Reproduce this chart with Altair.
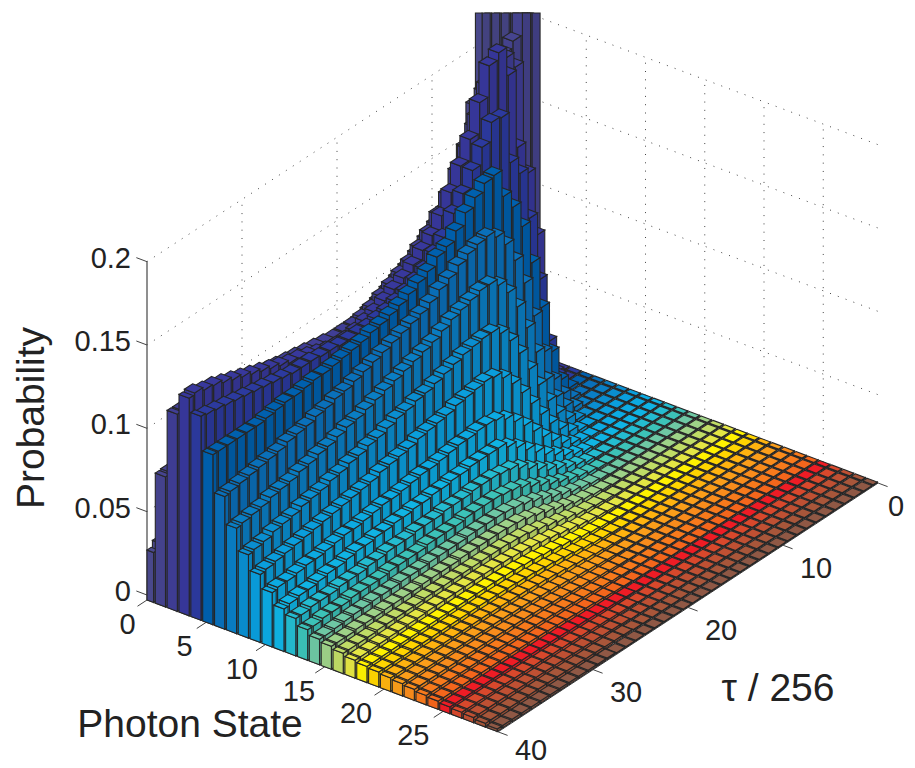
import altair as alt

# Probability (units of 1e-4) : one list per photon state, tau index 0..40
P00=[3000,3000,3000,3000,3000,3000,1700,1490,1240,1150,1080,1040,1000,970,930,890,860,830,800,770,750,730,710,690,670,650,630,610,590,570,550,530,510,490,470,440,420,390,360,330,294]
P01=[4,3000,3000,1990,1950,1900,1800,1630,1410,1300,1250,1200,1150,1100,1060,1030,1000,970,950,930,910,900,890,880,870,860,850,850,840,840,830,830,820,820,810,810,800,790,780,770,765]
P02=[4,60,440,1200,1900,1990,1990,1900,1750,1600,1500,1400,1320,1250,1200,1150,1120,1090,1060,1030,1010,1000,1000,1000,1010,1020,1030,1040,1050,1060,1070,1080,1090,1100,1110,1120,1130,1140,1150,1160,1160]
P03=[4,20,200,900,1300,1490,1950,2120,2080,1900,1720,1600,1480,1380,1300,1250,1200,1160,1130,1100,1070,1050,1030,1020,1020,1030,1050,1070,1090,1100,1120,1140,1160,1180,1200,1220,1240,1260,1270,1290,1280]
P04=[4,4,60,300,700,1100,1400,1500,1800,1810,1700,1600,1500,1420,1316,1257,1200,1170,1140,1120,1100,1090,1080,1080,1080,1080,1090,1090,1100,1100,1100,1110,1120,1130,1140,1150,1160,1170,1180,1190,1200]
P05=[4,4,20,100,300,600,900,1150,1300,1400,1560,1550,1503,1450,1380,1324,1300,1250,1220,1190,1160,1140,1120,1110,1090,1080,1070,1060,1050,1050,1040,1030,1030,1020,1010,1000,1000,1000,1000,1000,1000]
P06=[4,4,4,20,80,200,400,650,880,1050,1180,1260,1300,1290,1270,1240,1200,1170,1130,1100,1080,1060,1040,1020,1000,980,960,940,930,910,900,880,870,860,840,830,820,810,800,790,780]
P07=[4,4,4,4,30,70,160,300,500,680,840,960,1040,1080,1080,1060,1040,1020,990,960,940,920,900,880,860,840,820,800,790,770,750,740,720,710,690,680,670,650,640,630,620]
P08=[4,4,4,4,4,20,60,130,240,370,500,630,740,820,860,860,850,840,820,800,780,760,750,730,720,700,680,670,650,640,620,610,590,580,570,550,540,530,510,500,490]
P09=[4,4,4,4,4,10,20,50,100,170,260,360,460,550,620,660,670,660,650,640,620,610,600,590,570,560,550,540,520,510,500,490,480,470,460,450,440,430,420,410,400]
P10=[4,4,4,4,4,4,10,20,40,80,130,190,260,330,390,440,470,480,480,470,470,460,450,440,440,430,420,410,410,400,390,380,380,370,360,350,350,340,330,330,320]
P11=[4,4,4,4,4,4,4,10,20,40,70,110,150,200,250,300,340,370,370,370,370,360,360,350,350,340,340,330,330,320,320,310,310,300,290,290,280,270,270,260,250]
P12=[4,4,4,4,4,4,4,4,10,20,40,60,90,120,160,200,240,270,280,290,290,290,280,280,280,270,270,270,260,260,260,250,250,240,240,240,230,230,230,220,220]
P13=[4,4,4,4,4,4,4,4,4,10,20,35,50,75,100,130,160,190,210,220,230,230,230,230,220,220,220,220,210,210,210,210,200,200,200,200,190,190,190,180,180]
P14=[4,4,4,4,4,4,4,4,4,4,10,20,30,45,65,85,110,135,155,170,180,185,185,185,185,180,180,180,180,175,175,175,170,170,170,165,165,160,155,150,150]
P15=[4,4,4,4,4,4,4,4,4,4,4,11,18,28,40,55,75,95,115,130,145,150,155,155,155,155,155,150,150,150,150,145,145,145,145,140,140,140,135,135,135]
P16=[4,4,4,4,4,4,4,4,4,4,4,4,11,17,25,35,50,65,80,95,110,120,125,130,130,130,130,130,130,130,130,130,125,125,125,125,125,120,120,120,120]
P17=[4,4,4,4,4,4,4,4,4,4,4,4,4,11,16,23,33,45,58,70,82,92,100,105,110,112,115,115,115,115,115,115,115,112,112,110,110,108,106,105,105]
P18=[4,4,4,4,4,4,4,4,4,4,4,4,4,4,10,15,22,31,41,52,62,72,80,86,92,96,98,100,100,100,100,100,100,100,100,98,98,97,96,95,95]
P19=[4,4,4,4,4,4,4,4,4,4,4,4,4,4,4,10,15,21,29,38,47,56,63,70,76,80,84,86,88,90,90,90,90,90,90,90,90,88,88,88,88]
P20=[4,4,4,4,4,4,4,4,4,4,4,4,4,4,4,4,10,14,20,27,35,42,50,56,62,67,71,74,77,78,80,80,80,80,80,80,80,80,80,80,80]
P21=[4,4,4,4,4,4,4,4,4,4,4,4,4,4,4,4,4,9,13,18,25,31,38,44,50,55,59,63,65,68,70,70,72,72,72,72,72,72,72,72,72]
P22=[4,4,4,4,4,4,4,4,4,4,4,4,4,4,4,4,4,4,9,13,18,23,29,34,40,45,49,53,56,58,60,62,63,64,65,65,65,65,65,65,65]
P23=[4,4,4,4,4,4,4,4,4,4,4,4,4,4,4,4,4,4,4,9,13,17,22,27,32,36,40,44,47,49,51,52,54,55,55,55,55,55,55,55,55]
P24=[4,4,4,4,4,4,4,4,4,4,4,4,4,4,4,4,4,4,4,4,9,12,16,20,25,29,33,36,39,41,43,44,46,47,47,48,48,48,48,48,48]
P25=[4,4,4,4,4,4,4,4,4,4,4,4,4,4,4,4,4,4,4,4,4,9,12,15,19,23,26,29,32,34,35,37,38,39,40,40,40,40,40,40,40]
P26=[4,4,4,4,4,4,4,4,4,4,4,4,4,4,4,4,4,4,4,4,4,4,9,11,14,17,20,23,25,27,28,30,31,32,33,34,35,35,35,35,35]
P27=[4,4,4,4,4,4,4,4,4,4,4,4,4,4,4,4,4,4,4,4,4,4,4,4,10,13,15,18,20,21,23,24,25,26,27,28,29,30,30,30,30]
P28=[4,4,4,4,4,4,4,4,4,4,4,4,4,4,4,4,4,4,4,4,4,4,4,4,4,10,12,13,15,16,17,18,19,20,20,21,21,22,22,22,22]
P29=[4,4,4,4,4,4,4,4,4,4,4,4,4,4,4,4,4,4,4,4,4,4,4,4,4,4,4,4,9,10,11,12,12,13,13,14,14,15,15,15,15]
PROB=[P00,P01,P02,P03,P04,P05,P06,P07,P08,P09,P10,P11,P12,P13,P14,P15,P16,P17,P18,P19,P20,P21,P22,P23,P24,P25,P26,P27,P28,P29]

STATE_COLORS=["#4b4a8e","#46448f","#403e95","#38389c","#2c3a9f","#0060ae","#0a70ba","#0a7ec4","#0a8ed0","#0a9edc",
"#0caae2","#10b4e4","#24bcd0","#3cc2b8","#6ec8a4","#9ed288","#c0dc66","#e4e644","#fff200","#ffd500",
"#ffb30f","#fb9e1a","#f98c1c","#f87a1c","#f4661c","#ee1c25","#d8482c","#bf5033","#a8563a","#8f5845"]

Z_TICKS=[0,0.05,0.1,0.15,0.2]
Z_LABELS=["0","0.05","0.1","0.15","0.2"]
STATE_TICKS=[0,5,10,15,20,25]
TAU_TICKS=[0,10,20,30,40]
S_MAX,T_MAX,Z_MAX=29.63,40,0.2
CLIP_Y=13   # the picture crops the tallest bars here

def proj(s,t,z=0):
    u=T_MAX-t
    return [147+11.85*s+9.5*u, 600+4.45*s-6.22*u-1700*z]

def wall(z):
    # tick value -> height above the floor (the floor lies a little below z=0)
    return (5+1666.7*z)/1700

def cut(s,t):
    return proj(s,t,0)[1]/1700-CLIP_Y/1700

def shade(c,f):
    r,g,b=[int(c[i:i+2],16) for i in (1,3,5)]
    return "#%02x%02x%02x"%(int(r*f),int(g*f),int(b*f))

def poly(pts,c):
    ring=pts+[pts[0]]
    return {"type":"Feature","properties":{"c":c},"geometry":{"type":"Polygon","coordinates":[ring]}}

def line(*pts):
    return {"type":"Feature","properties":{},"geometry":{"type":"LineString","coordinates":list(pts)}}

GAP=0.07
faces=[]
for s,row in enumerate(PROB):
    s0=max(0,s-0.37+GAP); s1=min(S_MAX,s+0.63-GAP)
    base=STATE_COLORS[s]
    for t,v in enumerate(row):
        t0=max(0,t-0.5+GAP); t1=min(T_MAX,t+0.5-GAP)
        val=v/10000
        if val>0.22:
            faces.append(poly([proj(s1,t0,0),proj(s1,t1,0),proj(s1,t1,cut(s1,t1)),proj(s1,t0,cut(s1,t0))],shade(base,0.9)))
            faces.append(poly([proj(s0,t1,0),proj(s1,t1,0),proj(s1,t1,cut(s1,t1)),proj(s0,t1,cut(s0,t1))],shade(base,0.98)))
        else:
            faces.append(poly([proj(s1,t0,0),proj(s1,t1,0),proj(s1,t1,val),proj(s1,t0,val)],shade(base,0.9)))
            faces.append(poly([proj(s0,t1,0),proj(s1,t1,0),proj(s1,t1,val),proj(s0,t1,val)],shade(base,0.98)))
            faces.append(poly([proj(s0,t0,val),proj(s1,t0,val),proj(s1,t1,val),proj(s0,t1,val)],base))

grid=[]
for z in Z_TICKS[1:]:
    grid.append(line(proj(0,T_MAX,wall(z)),proj(0,0,wall(z))))
    grid.append(line(proj(0,0,wall(z)),proj(S_MAX,0,wall(z))))
for t in TAU_TICKS[1:4]:
    grid.append(line(proj(0,t,0),proj(0,t,wall(Z_MAX))))
for s in STATE_TICKS[1:]:
    grid.append(line(proj(s,0,0),proj(s,0,wall(Z_MAX))))

frame=[line(proj(0,T_MAX,0),proj(0,T_MAX,wall(Z_MAX)))]
axes=[line(proj(0,T_MAX,0),proj(S_MAX,T_MAX,0)),
      line(proj(S_MAX,T_MAX,0),proj(S_MAX,0,0))]
for z in Z_TICKS:
    axes.append(line(proj(0,T_MAX,wall(z)),proj(-0.9,T_MAX,wall(z))))
for s in STATE_TICKS:
    axes.append(line(proj(s,T_MAX,0),proj(s,T_MAX+1,0)))
for t in TAU_TICKS:
    axes.append(line(proj(S_MAX,t,0),proj(S_MAX+0.8,t,0)))

labels=[]
for z,l in zip(Z_TICKS,Z_LABELS):
    p=proj(0,T_MAX,wall(z))
    labels.append({"lon":p[0]-16,"lat":p[1]-3,"text":l,"align":"right"})
for s in STATE_TICKS:
    p=proj(s,T_MAX,0)
    labels.append({"lon":p[0]-19.5-0.42*s,"lat":p[1]+25,"text":str(s)})
for t in TAU_TICKS:
    p=proj(S_MAX,t,0)
    labels.append({"lon":min(p[0]+33,896),"lat":min(p[1]+23.5,751),"text":str(t)})

titles=[{"lon":190,"lat":725,"text":"Photon State"},
        {"lon":778,"lat":689,"text":"τ / 256"},
        {"lon":32,"lat":418,"text":"Probability"}]

PROJ=dict(type="identity",scale=1,translate=[-8,-8],reflectY=False)

grid_ch=alt.Chart(alt.Data(values=grid)).mark_geoshape(filled=False,stroke="#444444",strokeWidth=1,strokeDash=[1,7.3]).project(**PROJ)
frame_ch=alt.Chart(alt.Data(values=frame)).mark_geoshape(filled=False,stroke="#6a6a6a",strokeWidth=1.5).project(**PROJ)
axes_ch=alt.Chart(alt.Data(values=axes)).mark_geoshape(filled=False,stroke="#444444",strokeWidth=1).project(**PROJ)
bars_ch=alt.Chart(alt.Data(values=faces)).mark_geoshape(stroke="#262626",strokeWidth=1.1).encode(
    fill=alt.Fill("properties.c:N",scale=None)).project(**PROJ)

right=[l for l in labels if l.get("align")=="right"]
center=[l for l in labels if l.get("align")!="right"]
FONT="Liberation Sans"
lab_r=alt.Chart(alt.Data(values=right)).mark_text(font=FONT,fontSize=29,align="right",baseline="middle",color="#222222").encode(
    longitude="lon:Q",latitude="lat:Q",text="text:N").project(**PROJ)
lab_c=alt.Chart(alt.Data(values=center)).mark_text(font=FONT,fontSize=29,align="center",baseline="middle",color="#222222").encode(
    longitude="lon:Q",latitude="lat:Q",text="text:N").project(**PROJ)
t_h=alt.Chart(alt.Data(values=titles[:2])).mark_text(font=FONT,fontSize=39,align="center",baseline="middle",color="#222222").encode(
    longitude="lon:Q",latitude="lat:Q",text="text:N").project(**PROJ)
t_v=alt.Chart(alt.Data(values=titles[2:])).mark_text(font=FONT,fontSize=39,align="center",baseline="middle",angle=270,color="#222222").encode(
    longitude="lon:Q",latitude="lat:Q",text="text:N").project(**PROJ)

chart=alt.layer(grid_ch,frame_ch,axes_ch,bars_ch,lab_r,lab_c,t_h,t_v).properties(width=899,height=760,padding=0).configure_view(stroke=None)
chart.save("out.html",embed_options={"renderer":"svg","actions":False})
